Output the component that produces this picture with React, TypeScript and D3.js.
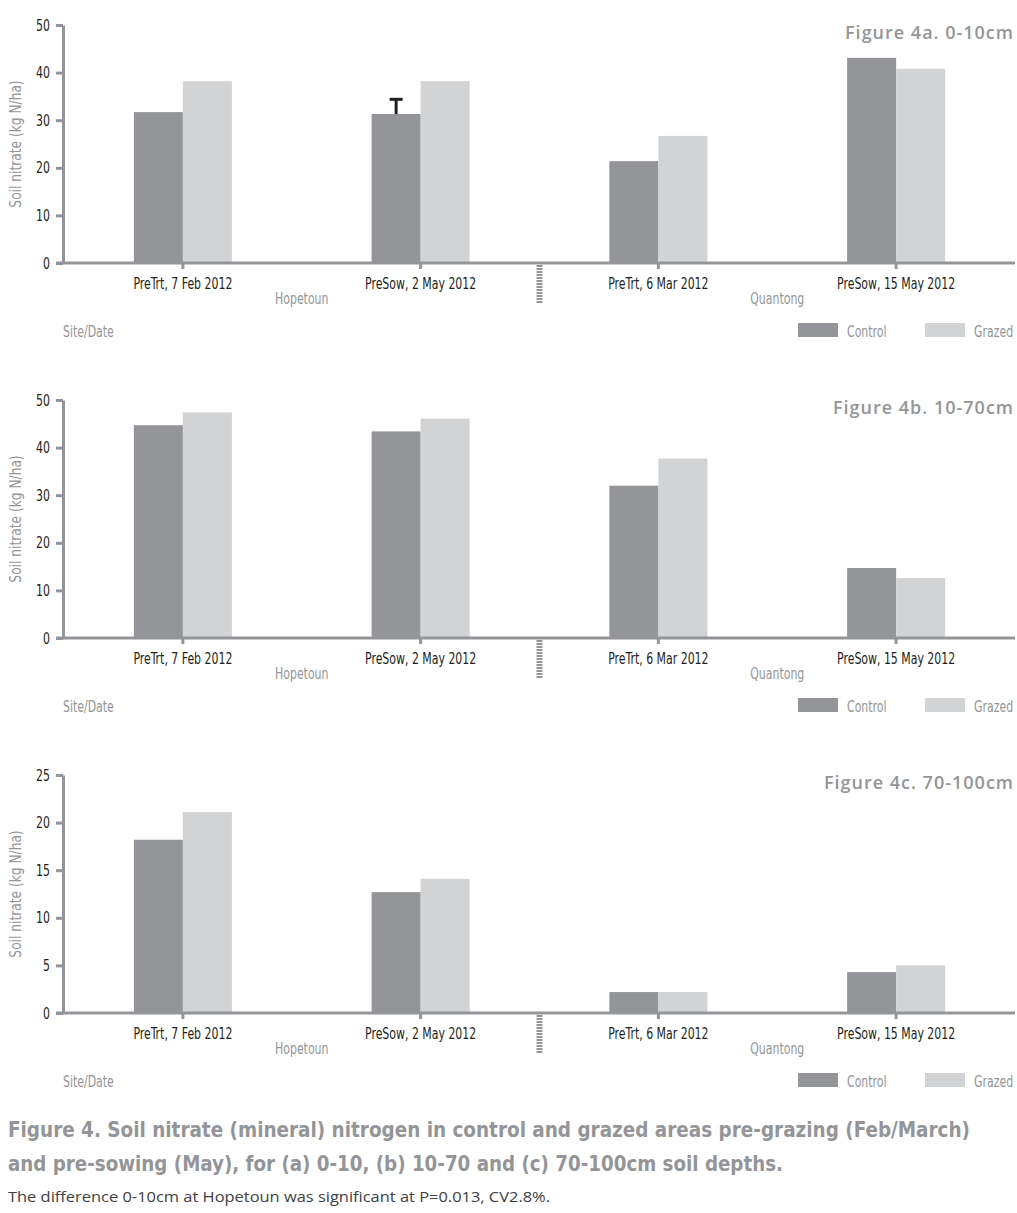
import { useEffect, useRef } from 'react';
import * as d3 from 'd3';

const CATEGORIES = ['PreTrt, 7 Feb 2012', 'PreSow, 2 May 2012', 'PreTrt, 6 Mar 2012', 'PreSow, 15 May 2012'];
const SITES = ['Hopetoun', 'Quantong'];
const SERIES = ['Control', 'Grazed'];
const COLORS = ['#939598', '#d1d3d4'];

const CONTROL_A = [31.7, 31.3, 21.4, 43.1];
const GRAZED_A = [38.2, 38.2, 26.7, 40.8];
const ERROR_A = [0, 3.3, 0, 0];
const CONTROL_B = [44.7, 43.4, 32.0, 14.7];
const GRAZED_B = [47.4, 46.1, 37.7, 12.6];
const CONTROL_C = [18.2, 12.7, 2.2, 4.3];
const GRAZED_C = [21.1, 14.1, 2.2, 5.0];

const TICKS_AB = [0, 10, 20, 30, 40, 50];
const TICKS_C = [0, 5, 10, 15, 20, 25];
const TITLES = ['Figure 4a. 0-10cm', 'Figure 4b. 10-70cm', 'Figure 4c. 70-100cm'];

const CAPTION_1 = 'Figure 4. Soil nitrate (mineral) nitrogen in control and grazed areas pre-grazing (Feb/March)';
const CAPTION_2 = 'and pre-sowing (May), for (a) 0-10, (b) 10-70 and (c) 70-100cm soil depths.';
const NOTE = 'The difference 0-10cm at Hopetoun was significant at P=0.013, CV2.8%.';

const W = 1017;
const H = 1213;
const PANEL_H = 375;
const NARROW = '"DejaVu Sans Condensed", "DejaVu Sans", sans-serif';
const HUMANIST = '"Open Sans", "Noto Sans", sans-serif';
const GREY = '#939598';
const INK = '#231f20';
const SX = 0.76; // horizontal squeeze to mimic the condensed face

type Sel = d3.Selection<SVGGElement, unknown, null, undefined>;

// condensed text placed at (x, y)
function ctext(parent: Sel, x: number, y: number, txt: string, size = 16, fill = GREY) {
  return parent.append('text')
    .attr('transform', `translate(${x},${y}) scale(${SX},1)`)
    .attr('fill', fill)
    .attr('font-size', `${size}px`)
    .attr('font-family', NARROW)
    .text(txt);
}

export default function App() {
  const svgRef = useRef<SVGSVGElement>(null);

  useEffect(() => {
    if (!svgRef.current) return;
    const svg = d3.select(svgRef.current);
    svg.selectAll('*').remove();

    const panels = [
      { title: TITLES[0], control: CONTROL_A, grazed: GRAZED_A, error: ERROR_A, ticks: TICKS_AB },
      { title: TITLES[1], control: CONTROL_B, grazed: GRAZED_B, error: null, ticks: TICKS_AB },
      { title: TITLES[2], control: CONTROL_C, grazed: GRAZED_C, error: null, ticks: TICKS_C },
    ];

    const x = d3.scaleBand<string>().domain(CATEGORIES).range([64, 1015]);
    const barW = 49;
    const inner = d3.scaleBand<string>().domain(SERIES).range([0, barW * 2]);
    const off = (x.bandwidth() - barW * 2) / 2;

    panels.forEach((p, i) => {
      const g = svg.append('g').attr('transform', `translate(0,${i * PANEL_H})`) as unknown as Sel;
      const yMax = p.ticks[p.ticks.length - 1];
      const y = d3.scaleLinear().domain([0, yMax]).range([263, 25]);

      // bars
      SERIES.forEach((s, si) => {
        const vals = si === 0 ? p.control : p.grazed;
        g.append('g').selectAll('rect')
          .data(vals)
          .join('rect')
          .attr('x', (_, j) => (x(CATEGORIES[j]) ?? 0) + off + (inner(s) ?? 0))
          .attr('y', d => y(d))
          .attr('width', inner.bandwidth())
          .attr('height', d => y(0) - y(d))
          .attr('fill', COLORS[si]);
      });

      // error bar
      if (p.error) {
        p.error.forEach((e, j) => {
          if (!e) return;
          const cx = (x(CATEGORIES[j]) ?? 0) + off + (inner('Control') ?? 0) + inner.bandwidth() / 2;
          g.append('line')
            .attr('x1', cx).attr('x2', cx)
            .attr('y1', y(p.control[j])).attr('y2', y(p.control[j] + e))
            .attr('stroke', INK).attr('stroke-width', 3);
          g.append('line')
            .attr('x1', cx - 6.5).attr('x2', cx + 6.5)
            .attr('y1', y(p.control[j] + e) + 1).attr('y2', y(p.control[j] + e) + 1)
            .attr('stroke', INK).attr('stroke-width', 3);
        });
      }

      // y axis
      g.append('g')
        .attr('transform', 'translate(63,0)')
        .call(d3.axisLeft(y).tickValues(p.ticks).tickSize(7).tickSizeOuter(0).tickPadding(6))
        .call(a => a.selectAll('line, path').attr('stroke', GREY).attr('stroke-width', 3))
        .call(a => a.selectAll('text')
          .attr('x', -13 / SX)
          .attr('transform', `scale(${SX},1)`)
          .attr('fill', INK).attr('font-size', '16px').attr('font-family', NARROW));

      // x axis
      g.append('line')
        .attr('x1', 56).attr('x2', 1015)
        .attr('y1', y(0)).attr('y2', y(0))
        .attr('stroke', GREY).attr('stroke-width', 3);
      g.append('g')
        .attr('transform', `translate(0,${y(0)})`)
        .call(d3.axisBottom(x).tickSize(6).tickSizeOuter(0).tickPadding(9))
        .call(a => a.select('.domain').remove())
        .call(a => a.selectAll('line').attr('stroke', GREY).attr('stroke-width', 3))
        .call(a => a.selectAll('text')
          .attr('transform', `scale(${SX},1)`)
          .attr('fill', INK).attr('font-size', '16px').attr('font-family', NARROW));

      // site separator
      const sepX = x(CATEGORIES[2]) ?? 0;
      g.append('line')
        .attr('x1', sepX).attr('x2', sepX)
        .attr('y1', y(0) + 2).attr('y2', y(0) + 40)
        .attr('stroke', GREY).attr('stroke-width', 6).attr('stroke-dasharray', '2,1');

      // site labels
      SITES.forEach((s, si) => {
        const a = (x(CATEGORIES[si * 2]) ?? 0) + x.bandwidth() / 2;
        const b = (x(CATEGORIES[si * 2 + 1]) ?? 0) + x.bandwidth() / 2;
        ctext(g, (a + b) / 2, 304, s).attr('text-anchor', 'middle');
      });

      ctext(g, 63, 337, 'Site/Date');

      // legend
      const legendX = [798, 925];
      SERIES.forEach((s, si) => {
        g.append('rect')
          .attr('x', legendX[si]).attr('y', 323)
          .attr('width', 40).attr('height', 14)
          .attr('fill', COLORS[si]);
        ctext(g, legendX[si] + 49, 337, s);
      });

      // y label
      g.append('text')
        .attr('transform', `translate(21,144) rotate(-90) scale(0.85,1)`)
        .attr('text-anchor', 'middle').attr('fill', GREY)
        .attr('font-size', '16px').attr('font-family', NARROW)
        .text('Soil nitrate (kg N/ha)');

      // panel title
      g.append('text')
        .attr('x', 1014).attr('y', 39)
        .attr('text-anchor', 'end').attr('fill', GREY)
        .attr('font-size', '18px').attr('font-weight', 600).attr('font-family', HUMANIST)
        .attr('letter-spacing', '1px')
        .text(p.title);
    });

    // caption
    svg.append('text')
      .attr('x', 8).attr('y', 1137)
      .attr('fill', GREY).attr('font-size', '22px').attr('font-weight', 'bold').attr('font-family', NARROW)
      .attr('textLength', 962).attr('lengthAdjust', 'spacingAndGlyphs')
      .text(CAPTION_1);
    svg.append('text')
      .attr('x', 8).attr('y', 1171)
      .attr('fill', GREY).attr('font-size', '22px').attr('font-weight', 'bold').attr('font-family', NARROW)
      .attr('textLength', 775).attr('lengthAdjust', 'spacingAndGlyphs')
      .text(CAPTION_2);
    svg.append('text')
      .attr('x', 8).attr('y', 1202)
      .attr('fill', '#414042').attr('font-size', '15px').attr('font-family', HUMANIST)
      .attr('textLength', 542).attr('lengthAdjust', 'spacingAndGlyphs')
      .text(NOTE);
  }, []);

  return (
    <svg
      ref={svgRef}
      width={W}
      height={H}
      style={{ position: 'absolute', left: 0, top: 0, background: '#fff' }}
    />
  );
}
